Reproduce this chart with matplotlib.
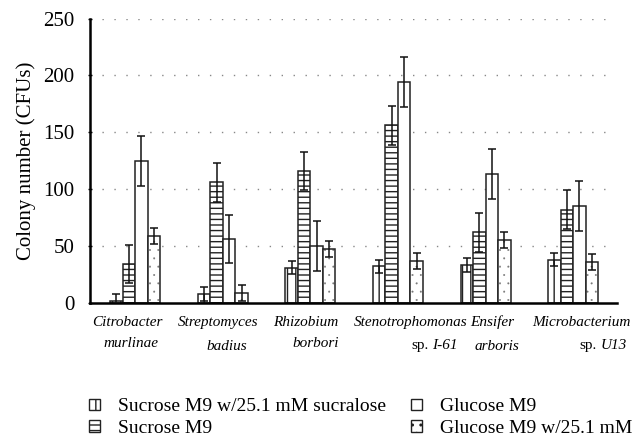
import numpy as np
import matplotlib.pyplot as plt
from matplotlib.patches import Patch

plt.rcParams['font.family'] = 'Liberation Serif'
plt.rcParams['hatch.linewidth'] = 1.0

# data
genus = ['Citrobacter', 'Streptomyces', 'Rhizobium', 'Stenotrophomonas', 'Ensifer', 'Microbacterium']
epithet = ['murlinae', 'badius', 'borbori', 'I-61', 'arboris', 'U13']
has_sp = [False, False, False, True, False, True]
conditions = ['Sucrose M9 w/25.1 mM sucralose', 'Sucrose M9', 'Glucose M9', 'Glucose M9 w/25.1 mM']

suc_sucralose = [2, 8, 31, 32, 33, 38]
suc_sucralose_err = [6, 6, 6, 6, 6, 6]
sucrose = [34, 106, 116, 156, 62, 82]
sucrose_err = [17, 17, 17, 17, 17, 17]
glucose = [125, 56, 50, 194, 113, 85]
glucose_err = [22, 21, 22, 22, 22, 22]
glu_sucralose = [59, 9, 47, 37, 55, 36]
glu_sucralose_err = [7, 7, 7, 7, 7, 7]

series = [suc_sucralose, sucrose, glucose, glu_sucralose]
errors = [suc_sucralose_err, sucrose_err, glucose_err, glu_sucralose_err]
hatches = ['||', '---', '', '..']
hatch_col = ['#222222', '#222222', '#222222', '#777777']
hatch_lw = [1.0, 1.0, 1.0, 0.2]

fig = plt.figure(figsize=(6.44, 4.44), dpi=100)
ax = fig.add_axes([0.14, 0.318, 0.818, 0.64])

x = np.arange(len(genus))
w = 0.1427
for k, (vals, err, h) in enumerate(zip(series, errors, hatches)):
    xs = x + (k - 1.5) * w
    with plt.rc_context({'hatch.linewidth': hatch_lw[k]}):
        ax.bar(xs, vals, w, color='white', edgecolor=hatch_col[k],
               linewidth=0, hatch=h, zorder=2)
    ax.bar(xs, vals, w, color='none', edgecolor='#222222', linewidth=1.1, zorder=2)
    ax.errorbar(xs, vals, yerr=err, fmt='none', ecolor='#111111',
                elinewidth=1.1, capsize=3, capthick=1.1, zorder=3)

ax.set_xlim(-0.514, 5.5)
ax.set_ylim(0, 250)
ax.set_yticks([0, 50, 100, 150, 200, 250])
ax.hlines([50, 100, 150, 200, 250], -0.514, 5.4, colors='#888888',
          linestyles=(0, (1, 7.6)), linewidth=1.0, zorder=1)
ax.set_xticks([])
ax.tick_params(axis='y', labelsize=15, length=3, width=1, direction='inout', pad=10)
for s in ['top', 'right']:
    ax.spines[s].set_visible(False)
for s in ['left', 'bottom']:
    ax.spines[s].set_linewidth(1.8)
ax.set_ylabel('Colony number (CFUs)', fontsize=15, labelpad=5)

# species labels, placed roughly like the original
top_off = [-0.086, -0.05, -0.05, 0.14, 0.075, 0.09]
bot_off = [-0.05, 0.04, 0.06, 0.37, 0.13, 0.29]
bot_drop = [29.5, 31.7, 29.5, 30.5, 31.7, 30.5]
for i in range(len(genus)):
    ax.annotate(genus[i], (x[i] + top_off[i], 0), xycoords=('data', 'axes fraction'),
                xytext=(0, -14.2), textcoords='offset points', ha='center', va='center',
                fontsize=11, style='italic')
    if has_sp[i]:
        ax.annotate('sp.', (x[i] + bot_off[i], 0), xycoords=('data', 'axes fraction'),
                    xytext=(-1.5, -bot_drop[i]), textcoords='offset points',
                    ha='right', va='center', fontsize=11)
        ax.annotate(epithet[i], (x[i] + bot_off[i], 0), xycoords=('data', 'axes fraction'),
                    xytext=(1.5, -bot_drop[i]), textcoords='offset points',
                    ha='left', va='center', fontsize=11, style='italic')
    else:
        ax.annotate(epithet[i], (x[i] + bot_off[i], 0), xycoords=('data', 'axes fraction'),
                    xytext=(0, -bot_drop[i]), textcoords='offset points',
                    ha='center', va='center', fontsize=11, style='italic')

handles = []
for k, h in enumerate(hatches):
    with plt.rc_context({'hatch.linewidth': hatch_lw[k]}):
        handles.append(Patch(facecolor='white', edgecolor='#222222', hatch=h, linewidth=1.0))
fig.legend(handles, conditions,
           loc='upper left', bbox_to_anchor=(0.138, 0.103), ncol=2, frameon=False,
           fontsize=14, handlelength=0.55, handleheight=0.55, handletextpad=0.95,
           columnspacing=1.3, labelspacing=0.22, borderaxespad=0, borderpad=0)

fig.savefig('out.png', dpi=100)
